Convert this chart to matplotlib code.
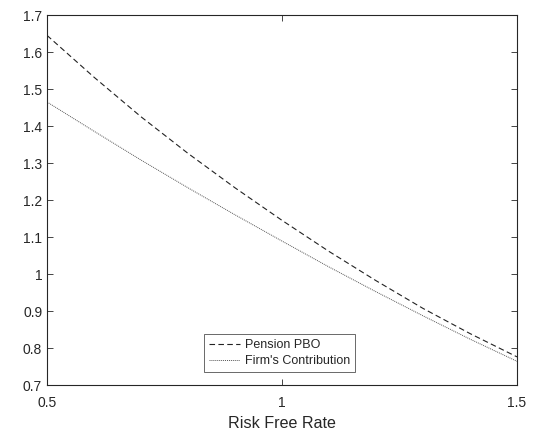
import matplotlib
matplotlib.use("Agg")
import matplotlib.pyplot as plt

rate = [0.5, 0.6, 0.7, 0.8, 0.9, 1.0, 1.1, 1.2, 1.3, 1.4, 1.5]
pension_pbo = [1.645, 1.532, 1.425, 1.326, 1.233, 1.145, 1.061, 0.982, 0.907, 0.839, 0.776]
firm_contrib = [1.465, 1.386, 1.308, 1.233, 1.160, 1.089, 1.019, 0.952, 0.887, 0.824, 0.764]
xticks = [0.5, 1, 1.5]
yticks = [0.7, 0.8, 0.9, 1, 1.1, 1.2, 1.3, 1.4, 1.5, 1.6, 1.7]

plt.rcParams['font.family'] = ['Liberation Sans', 'DejaVu Sans']
axc = '#262626'

fig = plt.figure(figsize=(5.37, 4.34), dpi=100)
ax = fig.add_axes([0.0875, 0.1129, 0.8753, 0.8525])
ax.plot(rate, pension_pbo, color='#222222', lw=0.8, ls=(0, (5, 3)), label='Pension PBO')
ax.plot(rate, firm_contrib, color='#555555', lw=0.7, ls=(0, (1, 1)), label="Firm's Contribution")
ax.set_xlim(0.5, 1.5)
ax.set_ylim(0.7, 1.7)
ax.set_xticks(xticks)
ax.set_xticklabels([f'{t:g}' for t in xticks])
ax.set_yticks(yticks)
ax.set_yticklabels([f'{t:g}' for t in yticks])
ax.tick_params(direction='in', top=True, right=True, labelsize=10, colors=axc, length=4, width=0.6)
ax.tick_params(axis='x', pad=8)
for s in ax.spines.values():
    s.set_color(axc)
    s.set_linewidth(0.8)
ax.set_xlabel('Risk Free Rate', fontsize=11.6, color=axc, labelpad=4)
leg = ax.legend(loc='lower center', bbox_to_anchor=(0.495, 0.035), fontsize=9, frameon=True,
                fancybox=False, edgecolor=axc, handlelength=2.5, borderpad=0.4,
                labelspacing=0.3, handletextpad=0.4, borderaxespad=0)
leg.get_frame().set_linewidth(0.6)
for t in leg.get_texts():
    t.set_color(axc)
fig.savefig('out.png', dpi=100)
